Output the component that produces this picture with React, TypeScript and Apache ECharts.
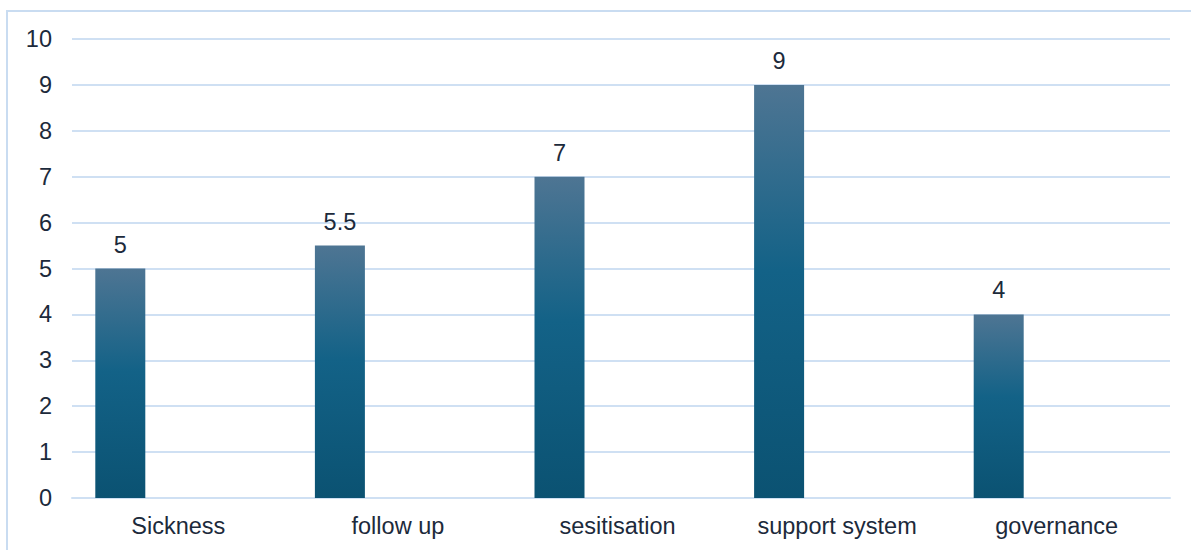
import React, { useEffect, useRef } from "react";
import * as echarts from "echarts";

const categories = ["Sickness", "follow up", "sesitisation", "support system", "governance"];
const scores = [5, 5.5, 7, 9, 4];
const yTicks = { min: 0, max: 10, interval: 1 };

const textColor = "#1c2a3b";
const lineColor = "#cfe0f3";
const fontFamily = "'Liberation Sans', Arial, sans-serif";
const fontSize = 23.5;

export default function App() {
  const ref = useRef<HTMLDivElement>(null);

  useEffect(() => {
    if (!ref.current) return;
    const chart = echarts.init(ref.current, null, { renderer: "svg" });
    chart.setOption({
      animation: false,
      backgroundColor: "#ffffff",
      textStyle: { fontFamily },
      graphic: [
        {
          type: "rect",
          shape: { x: 7, y: 11, width: 1300, height: 700 },
          style: { fill: "none", stroke: "#c9dcf1", lineWidth: 2 },
          silent: true,
        },
      ],
      grid: { left: 72, right: 21, top: 39, bottom: 52, containLabel: false },
      xAxis: {
        type: "category",
        data: categories,
        axisLine: { show: true, lineStyle: { color: lineColor, width: 2 } },
        axisTick: { show: false },
        axisLabel: {
          color: textColor,
          fontSize,
          margin: 16,
          fontFamily,
          padding: [0, 7, 0, 0],
        },
      },
      yAxis: {
        type: "value",
        min: yTicks.min,
        max: yTicks.max,
        interval: yTicks.interval,
        axisLine: { show: false },
        axisTick: { show: false },
        axisLabel: { color: textColor, fontSize, margin: 20, fontFamily },
        splitLine: { lineStyle: { color: lineColor, width: 2 } },
      },
      series: [
        {
          type: "bar",
          data: scores,
          barWidth: 50,
          barGap: "146%",
          itemStyle: {
            color: new echarts.graphic.LinearGradient(0, 0, 0, 1, [
              { offset: 0, color: "#4e7593" },
              { offset: 0.45, color: "#136287" },
              { offset: 1, color: "#0b5272" },
            ]),
          },
          label: {
            show: true,
            position: "top",
            distance: 12,
            color: textColor,
            fontSize,
            fontFamily,
          },
        },
        {
          type: "bar",
          data: categories.map(() => null),
          barWidth: 50,
        },
      ],
    });
    return () => chart.dispose();
  }, []);

  return (
    <div
      ref={ref}
      style={{ position: "fixed", left: 0, top: 0, width: 1191, height: 550 }}
    />
  );
}
